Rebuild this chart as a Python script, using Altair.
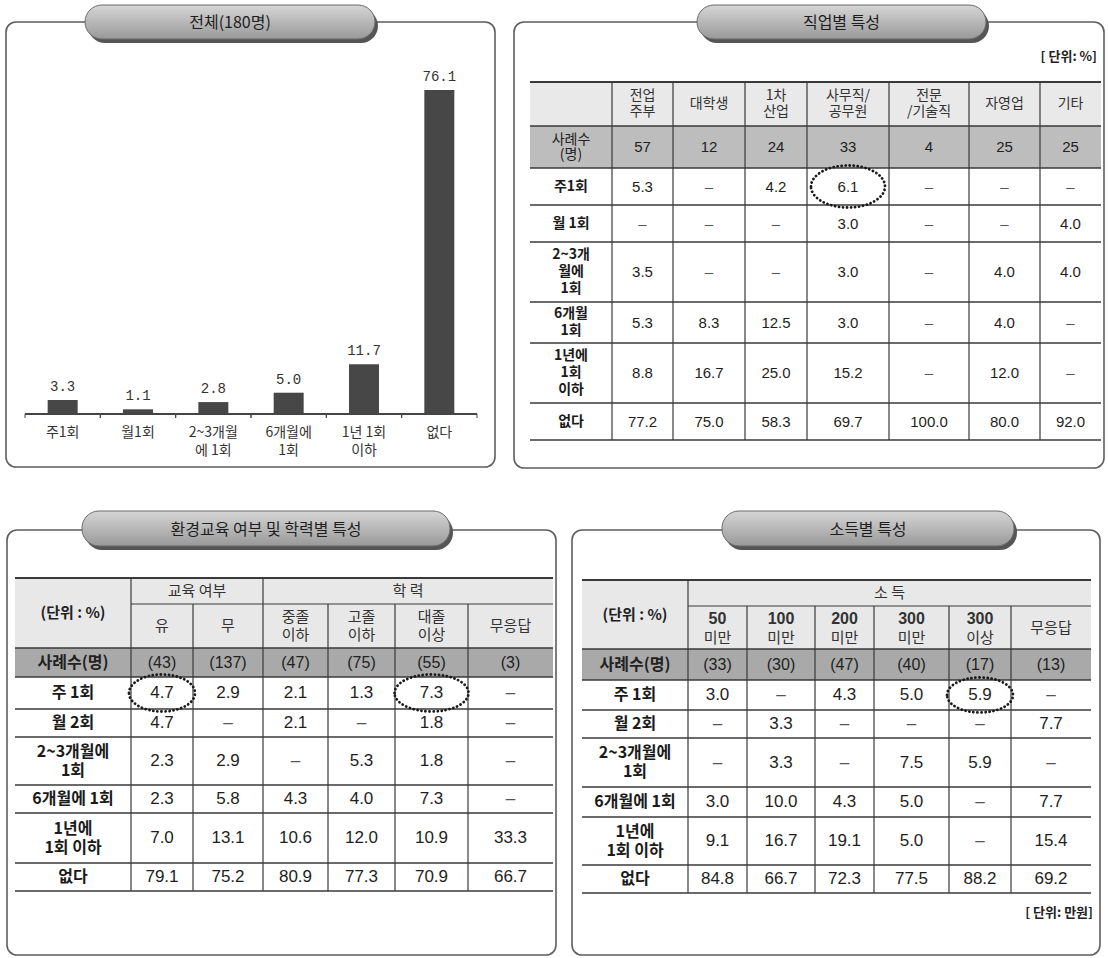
import altair as alt
import pandas as pd

# ---------------- DATA ----------------
all_title = "전체(180명)"
all_freq = ["주1회", "월1회", "2~3개월\n에 1회", "6개월에\n1회", "1년 1회\n이하", "없다"]
all_pct = [3.3, 1.1, 2.8, 5.0, 11.7, 76.1]

job_title = "직업별 특성"
job_unit = "[ 단위: %]"
job_cols = ["전업\n주부", "대학생", "1차\n산업", "사무직/\n공무원", "전문\n/기술직", "자영업", "기타"]
job_count_label = "사례수\n(명)"
job_count = [57, 12, 24, 33, 4, 25, 25]
job_row_labels = ["주1회", "월 1회", "2~3개\n월에\n1회", "6개월\n1회", "1년에\n1회\n이하", "없다"]
job_weekly = [5.3, None, 4.2, 6.1, None, None, None]
job_monthly = [None, None, None, 3.0, None, None, 4.0]
job_2_3m = [3.5, None, None, 3.0, None, 4.0, 4.0]
job_6m = [5.3, 8.3, 12.5, 3.0, None, 4.0, None]
job_year = [8.8, 16.7, 25.0, 15.2, None, 12.0, None]
job_none = [77.2, 75.0, 58.3, 69.7, 100.0, 80.0, 92.0]
job_marked = [(0, 3)]

unit_label = "(단위 : %)"
count_label = "사례수(명)"

edu_title = "환경교육 여부 및 학력별 특성"
edu_groups = ["교육 여부", "학 력"]
edu_cols = ["유", "무", "중졸\n이하", "고졸\n이하", "대졸\n이상", "무응답"]
edu_count = [43, 137, 47, 75, 55, 3]
edu_row_labels = ["주 1회", "월 2회", "2~3개월에\n1회", "6개월에 1회", "1년에\n1회 이하", "없다"]
edu_weekly = [4.7, 2.9, 2.1, 1.3, 7.3, None]
edu_monthly = [4.7, None, 2.1, None, 1.8, None]
edu_2_3m = [2.3, 2.9, None, 5.3, 1.8, None]
edu_6m = [2.3, 5.8, 4.3, 4.0, 7.3, None]
edu_year = [7.0, 13.1, 10.6, 12.0, 10.9, 33.3]
edu_none = [79.1, 75.2, 80.9, 77.3, 70.9, 66.7]
edu_marked = [(0, 0), (0, 4)]

inc_title = "소득별  특성"
inc_groups = ["소 득"]
inc_unit = "[ 단위: 만원]"
inc_cols = ["50\n미만", "100\n미만", "200\n미만", "300\n미만", "300\n이상", "무응답"]
inc_count = [33, 30, 47, 40, 17, 13]
inc_row_labels = ["주 1회", "월 2회", "2~3개월에\n1회", "6개월에 1회", "1년에\n1회 이하", "없다"]
inc_weekly = [3.0, None, 4.3, 5.0, 5.9, None]
inc_monthly = [None, 3.3, None, None, None, 7.7]
inc_2_3m = [None, 3.3, None, 7.5, 5.9, None]
inc_6m = [3.0, 10.0, 4.3, 5.0, None, 7.7]
inc_year = [9.1, 16.7, 19.1, 5.0, None, 15.4]
inc_none = [84.8, 66.7, 72.3, 77.5, 88.2, 69.2]
inc_marked = [(0, 4)]

# ---------------- LAYOUT / STYLE ----------------
W, H = 1108, 958
KR = "Noto Sans CJK KR"
NUM = "Liberation Sans"
MONO = "Liberation Mono"

frames = [(6, 495, 22, 467), (514, 1104, 22, 468), (7, 556, 530, 955), (572, 1100, 530, 955)]
pills = [(85, 375, 5, 39), (697, 986, 5, 39), (82, 450, 511, 546), (722, 1014, 511, 546)]
titles = [all_title, job_title, edu_title, inc_title]

T2_X = [530, 612, 673, 745, 807, 889, 969, 1040, 1101]
T2_Y = [82, 126, 168, 205, 242, 302, 343, 403, 440]
T3_X = [15, 131, 193, 263, 328, 395, 468, 553]
T3_Y = [578, 604, 648, 677, 709, 737, 785, 813, 863, 891]
T4_X = [582, 688, 747, 815, 874, 949, 1011, 1091]
T4_Y = [580, 606, 649, 680, 710, 738, 787, 817, 865, 893]

fills, hlines, vlines, texts, marks = [], [], [], [], []


def add_text(x, y, t, size, weight="normal", font=KR, color="#222", lh=17, align="center"):
    n = t.count("\n")
    texts.append(dict(x=x, y=y - n * lh / 2.0, text=t, size=size, weight=weight, font=font,
                      color=color, lh=lh, align=align))


def fmt(v):
    return "–" if v is None else f"{v:.1f}"


def draw_table(X, Y, cols, counts, cnt_label, row_labels, rows, marked, st,
               groups=None, corner=None, count_fmt="{}"):
    if groups:
        top, sub, hb, cb = Y[0], Y[1], Y[2], Y[3]
        body = Y[3:]
    else:
        top, hb, cb = Y[0], Y[1], Y[2]
        sub = top
        body = Y[2:]
    xl, xr = X[0], X[-1]
    fills.append(dict(x=xl, x2=xr, y=top, y2=hb, fill=st["hdr_fill"]))
    fills.append(dict(x=xl, x2=xr, y=hb, y2=cb, fill=st["cnt_fill"]))
    hlines.append(dict(x=xl, x2=xr, y=top, w=2.0))
    if groups:
        hlines.append(dict(x=X[1], x2=xr, y=sub, w=1.2))
    for yy in [hb] + body:
        hlines.append(dict(x=xl, x2=xr, y=yy, w=1.3))
    group_starts = {1}
    if groups:
        for (_, c0, _) in groups:
            group_starts.add(c0)
    for i in range(1, len(X) - 1):
        y0 = top if (not groups or i in group_starts) else sub
        vlines.append(dict(x=X[i], y=y0, y2=body[-1]))
    if corner:
        add_text((X[0] + X[1]) / 2, (top + hb) / 2, corner, st["corner_size"], "bold")
    if groups:
        for (lab, c0, c1) in groups:
            add_text((X[c0] + X[c1]) / 2, (top + sub) / 2, lab, st["hdr_size"], color="#333")
    for j, lab in enumerate(cols):
        cx = (X[j + 1] + X[j + 2]) / 2
        cy = (sub + hb) / 2
        parts = lab.split("\n")
        if st.get("bold_digits") and len(parts) == 2 and parts[0].isdigit():
            add_text(cx, cy - 9, parts[0], st["hdr_size"] + 1, "bold", NUM, "#333")
            add_text(cx, cy + 10, parts[1], st["hdr_size"], "normal", KR, "#333")
        else:
            add_text(cx, cy, lab, st["hdr_size"], color="#333", lh=st["hdr_lh"])
    add_text((X[0] + X[1]) / 2, (hb + cb) / 2, cnt_label, st["cnt_lab_size"], st["cnt_lab_weight"],
             color="#222", lh=st["cnt_lh"])
    for j, c in enumerate(counts):
        add_text((X[j + 1] + X[j + 2]) / 2, (hb + cb) / 2, count_fmt.format(c), st["cnt_size"],
                 "normal", NUM, "#222")
    for i, (lab, vals) in enumerate(zip(row_labels, rows)):
        cy = (body[i] + body[i + 1]) / 2
        add_text((X[0] + X[1]) / 2, cy, lab, st["row_size"], "bold", KR, "#1a1a1a", st["row_lh"])
        for j, v in enumerate(vals):
            add_text((X[j + 1] + X[j + 2]) / 2, cy, fmt(v), st["val_size"], "normal", NUM,
                     "#555" if v is None else "#1e1e1e")
    for (ri, cj) in marked:
        x0, x1 = X[cj + 1], X[cj + 2]
        y0, y1 = body[ri], body[ri + 1]
        w = min(x1 - x0 + 4, 74)
        h = y1 - y0 + 5
        r = h / w
        marks.append(dict(x=(x0 + x1) / 2, y=(y0 + y1) / 2, sz=w * w,
                          path=f"M -1 0 A 1 {r:.3f} 0 1 1 1 0 A 1 {r:.3f} 0 1 1 -1 0 Z"))


style2 = dict(hdr_fill="#e9e9e9", cnt_fill="#bdbdbd", hdr_size=14, hdr_lh=16, corner_size=15,
              cnt_lab_size=14, cnt_lab_weight="normal", cnt_lh=15, cnt_size=15, row_size=14,
              row_lh=17, val_size=15)
style34 = dict(hdr_fill="#e8e8e8", cnt_fill="#a9a9a9", hdr_size=15, hdr_lh=18, corner_size=15,
               cnt_lab_size=16, cnt_lab_weight="bold", cnt_lh=18, cnt_size=16, row_size=16,
               row_lh=19, val_size=17, bold_digits=True)

draw_table(T2_X, T2_Y, job_cols, job_count, job_count_label, job_row_labels,
           [job_weekly, job_monthly, job_2_3m, job_6m, job_year, job_none], job_marked, style2)
draw_table(T3_X, T3_Y, edu_cols, edu_count, count_label, edu_row_labels,
           [edu_weekly, edu_monthly, edu_2_3m, edu_6m, edu_year, edu_none], edu_marked, style34,
           groups=[(edu_groups[0], 1, 3), (edu_groups[1], 3, 7)], corner=unit_label, count_fmt="({})")
draw_table(T4_X, T4_Y, inc_cols, inc_count, count_label, inc_row_labels,
           [inc_weekly, inc_monthly, inc_2_3m, inc_6m, inc_year, inc_none], inc_marked, style34,
           groups=[(inc_groups[0], 1, 7)], corner=unit_label, count_fmt="({})")

for (x0, x1, y0, y1), t in zip(pills, titles):
    add_text((x0 + x1) / 2, (y0 + y1) / 2 + 1, t, 16, "normal", KR, "#1e1e1e")
add_text(1097, 57, job_unit, 13, "bold", KR, "#222", align="right")
add_text(1093, 913, inc_unit, 13, "bold", KR, "#222", align="right")

frame_df = pd.DataFrame([dict(x=a, x2=b, y=c, y2=d) for a, b, c, d in frames])
shadow_df = pd.DataFrame([dict(x=a + 3, x2=b + 3, y=c + 4, y2=d + 4) for a, b, c, d in pills])
pill_df = pd.DataFrame([dict(x=a, x2=b, y=c, y2=d) for a, b, c, d in pills])


def rect_enc(ch):
    return ch.encode(x=alt.X("x:Q", scale=None), x2="x2:Q", y=alt.Y("y:Q", scale=None), y2="y2:Q")


frame_layer = rect_enc(alt.Chart(frame_df).mark_rect(fill="white", stroke="#5e5e5e",
                                                       strokeWidth=1.6, cornerRadius=10))
shadow_layer = rect_enc(alt.Chart(shadow_df).mark_rect(fill="#555555", cornerRadius=17))
pill_layer = rect_enc(alt.Chart(pill_df).mark_rect(
    fill={"gradient": "linear", "x1": 0, "y1": 0, "x2": 0, "y2": 1,
          "stops": [{"offset": 0, "color": "#d6d6d6"}, {"offset": 1, "color": "#999999"}]},
    stroke="#6a6a6a", strokeWidth=1, cornerRadius=17))

fill_layer = alt.Chart(pd.DataFrame(fills)).mark_rect().encode(
    x=alt.X("x:Q", scale=None), x2="x2:Q", y=alt.Y("y:Q", scale=None), y2="y2:Q",
    color=alt.Color("fill:N", scale=None))
hline_layer = alt.Chart(pd.DataFrame(hlines)).mark_rule(color="#3a3a3a").encode(
    x=alt.X("x:Q", scale=None), x2="x2:Q", y=alt.Y("y:Q", scale=None),
    strokeWidth=alt.StrokeWidth("w:Q", scale=None))
vline_layer = alt.Chart(pd.DataFrame(vlines)).mark_rule(color="#3a3a3a", strokeWidth=1.2).encode(
    x=alt.X("x:Q", scale=None), y=alt.Y("y:Q", scale=None), y2="y2:Q")

tdf = pd.DataFrame(texts)
text_layers = []
for (weight, font, lh, align), g in tdf.groupby(["weight", "font", "lh", "align"]):
    text_layers.append(
        alt.Chart(g.reset_index(drop=True)).mark_text(
            font=font, fontWeight=weight, lineHeight=float(lh), align=align,
            baseline="middle", lineBreak="\n").encode(
            x=alt.X("x:Q", scale=None), y=alt.Y("y:Q", scale=None), text="text:N",
            size=alt.Size("size:Q", scale=None), color=alt.Color("color:N", scale=None)))

mark_layer = alt.Chart(pd.DataFrame(marks)).mark_point(
    filled=False, color="#1a1a1a", strokeWidth=2.8, strokeCap="round",
    strokeDash=[0.1, 3.9], opacity=1).encode(
    x=alt.X("x:Q", scale=None), y=alt.Y("y:Q", scale=None),
    shape=alt.Shape("path:N", scale=None), size=alt.Size("sz:Q", scale=None))

# ---------------- BAR CHART ----------------
bar_df = pd.DataFrame({"freq": all_freq, "pct": all_pct,
                       "label": [f"{v:.1f}" for v in all_pct]})
xs = alt.X("freq:N", sort=all_freq,
           scale=alt.Scale(domain=all_freq, range=[25, 477], paddingInner=0, paddingOuter=0),
           axis=None)
ys = alt.Y("pct:Q", scale=alt.Scale(domain=[0, 80], range=[414, 73.4], nice=False), axis=None)

bars = alt.Chart(bar_df).mark_bar(size=30, color="#474747").encode(x=xs, y=ys)
vlabels = alt.Chart(bar_df).mark_text(dy=-6, baseline="bottom", font=MONO, fontSize=14,
                                      color="#333").encode(x=xs, y=ys, text="label:N")
clabels = alt.Chart(bar_df).mark_text(baseline="top", lineBreak="\n", lineHeight=18, font=KR,
                                      fontSize=14, color="#333").encode(
    x=alt.X("freq:N", sort=all_freq), y=alt.value(426), text="freq:N")
baseline = alt.Chart(bar_df).mark_rule(color="#444", strokeWidth=1.5).encode(
    x=alt.value(25), x2=alt.value(477), y=alt.datum(0))
ticks0 = alt.Chart(bar_df).mark_rule(color="#444", strokeWidth=1).encode(
    x=alt.X("freq:N", sort=all_freq, bandPosition=0), y=alt.value(414), y2=alt.value(418))
ticks1 = alt.Chart(bar_df).mark_rule(color="#444", strokeWidth=1).encode(
    x=alt.X("freq:N", sort=all_freq, bandPosition=1), y=alt.value(414), y2=alt.value(418))

bar_layer = alt.layer(bars, vlabels, clabels, baseline, ticks0, ticks1)

chart = alt.layer(
    frame_layer, shadow_layer, pill_layer, fill_layer, hline_layer, vline_layer,
    *text_layers, mark_layer, bar_layer
).resolve_scale(x="independent", y="independent").properties(
    width=W, height=H, padding=0, background="white",
    autosize=alt.AutoSizeParams(type="none")
).configure_view(stroke=None)

chart.save("out.html", embed_options={"renderer": "svg", "actions": False})
